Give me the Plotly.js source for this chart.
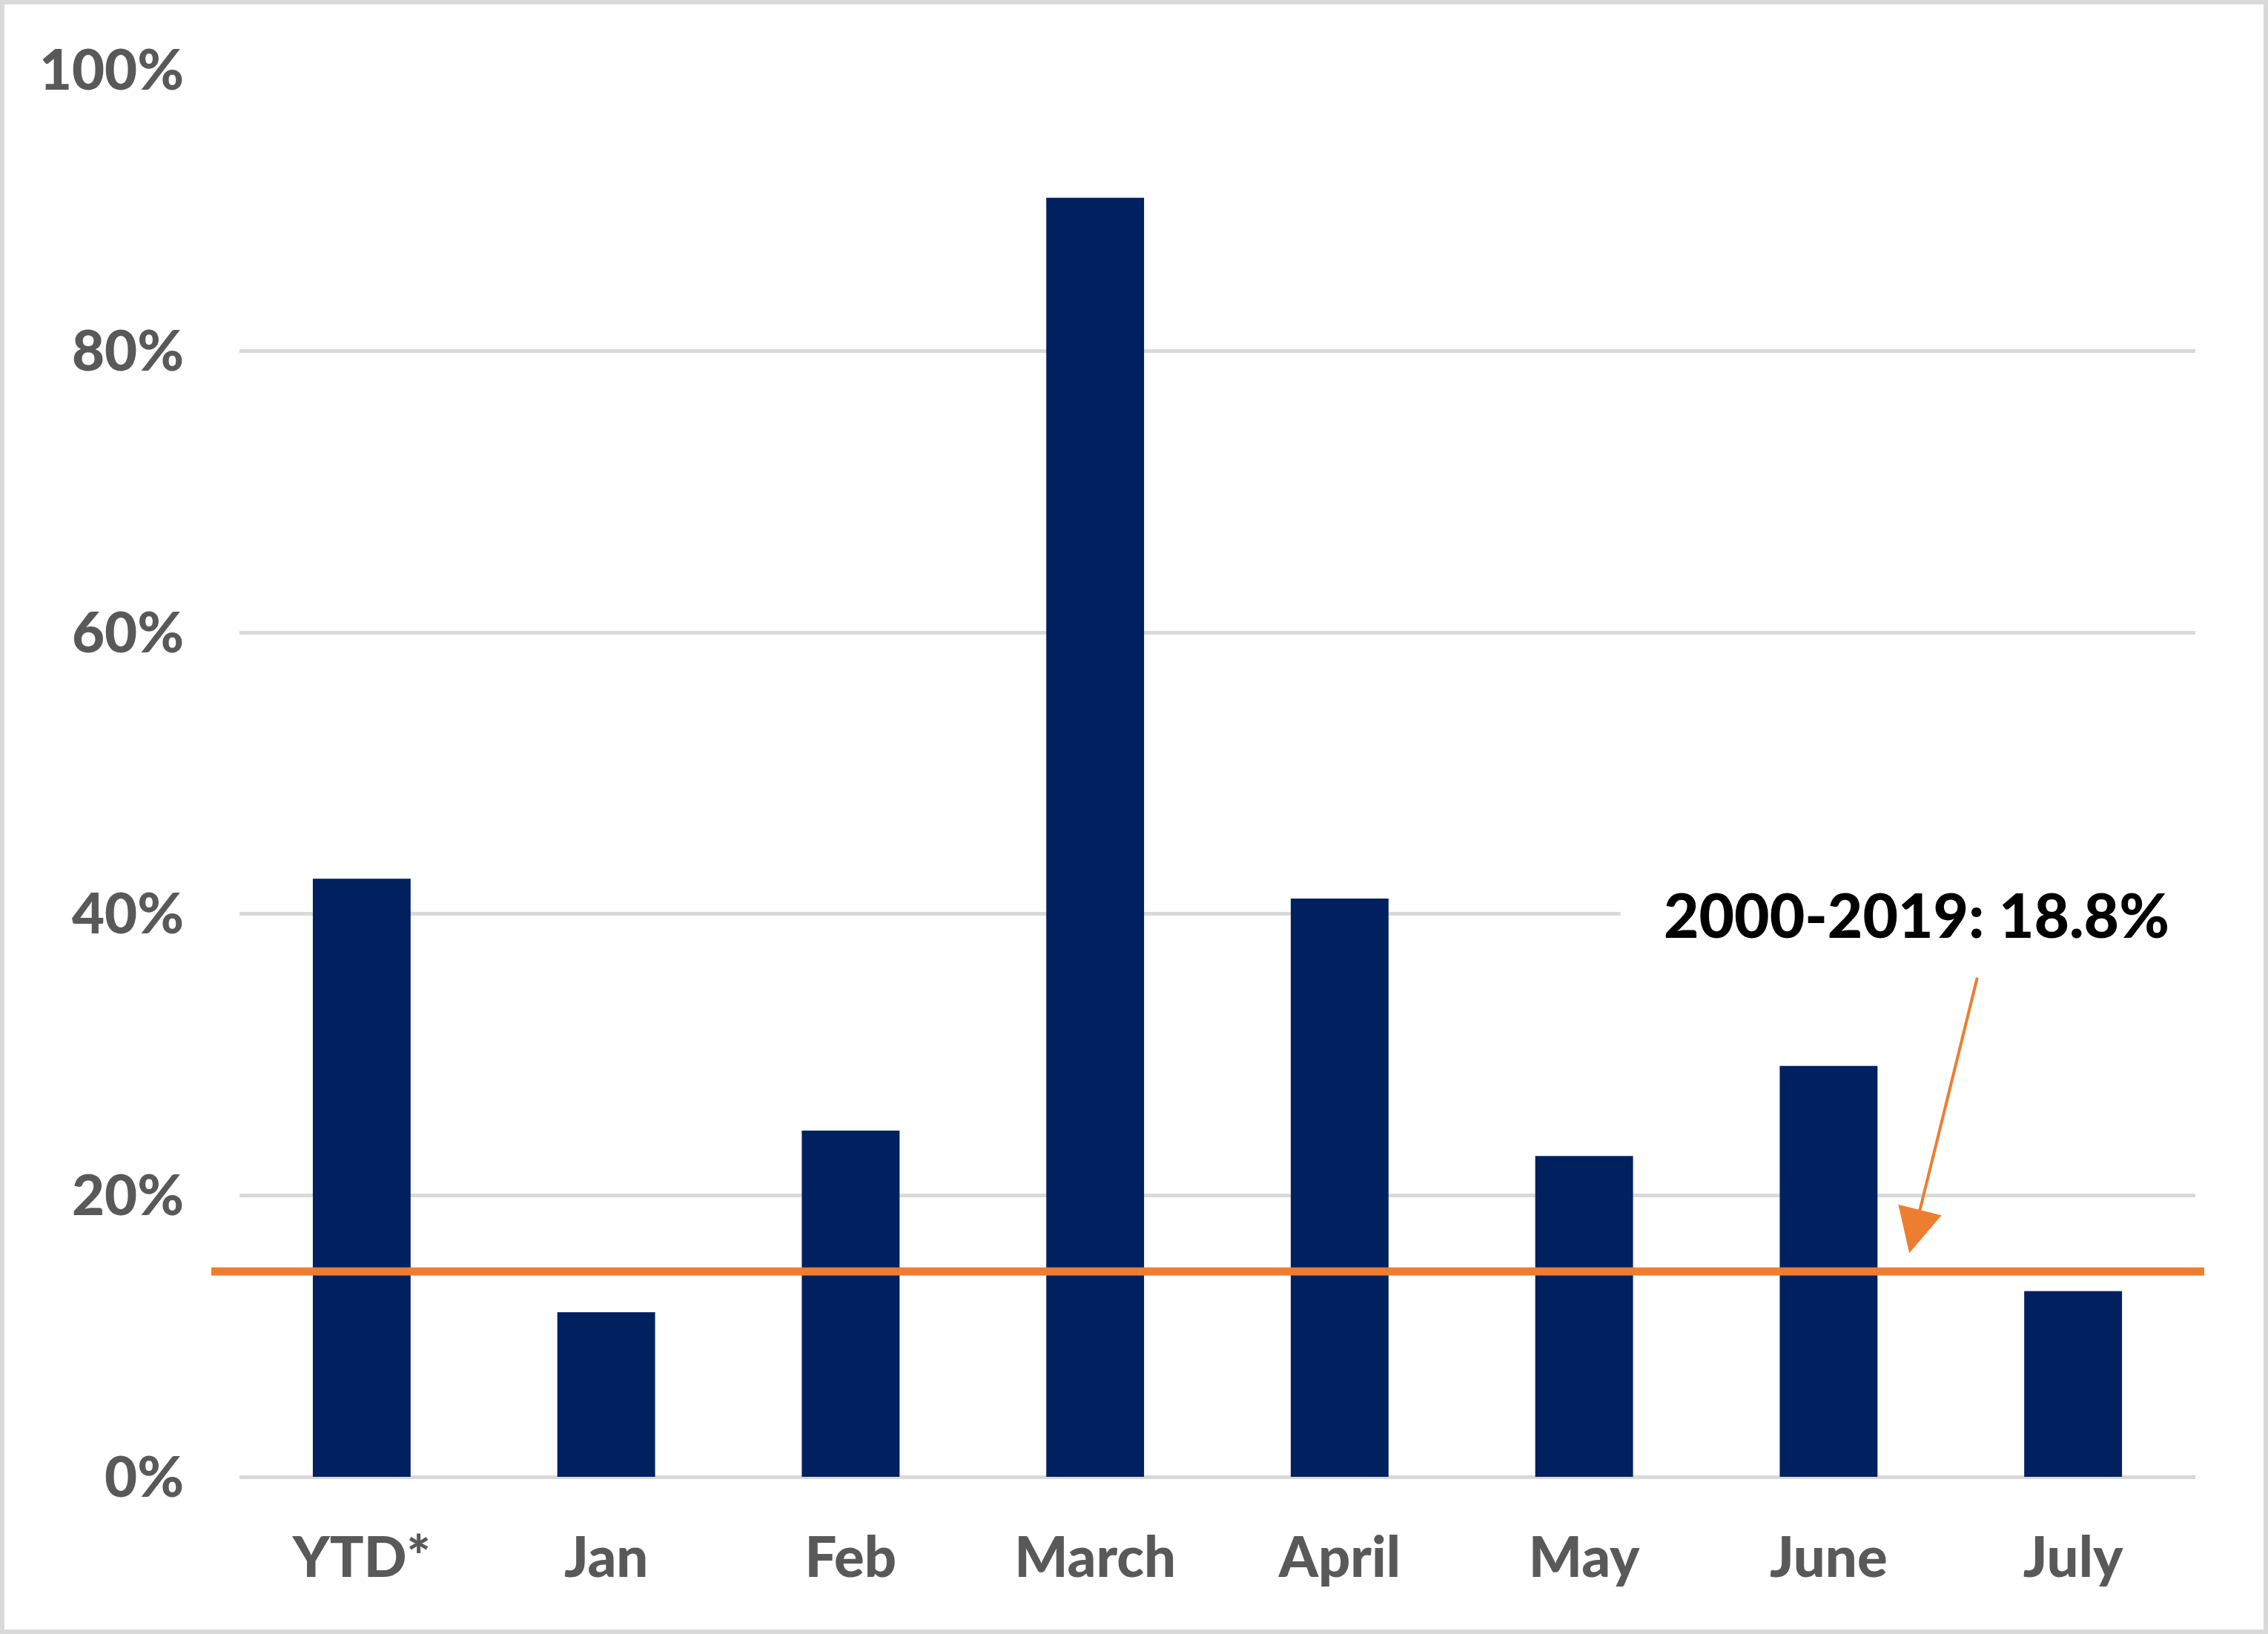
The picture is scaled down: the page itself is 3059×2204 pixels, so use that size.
<!DOCTYPE html>
<html>
<head>
<meta charset="utf-8">
<script src="https://cdn.plot.ly/plotly-3.0.1.min.js"></script>
<style>
  body { margin: 0; background: #fff; }
  #chart { width: 3059px; height: 2204px; }
</style>
</head>
<body>
<div id="chart"></div>
<script>
// share by month (percent)
var categories = ['YTD*', 'Jan', 'Feb', 'March', 'April', 'May', 'June', 'July'];
var values = [42.5, 11.7, 24.6, 90.9, 41.1, 22.8, 29.2, 13.2];
var avgLine = 14.6;
var avgLabel = '2000-2019: 18.8%';
var yTicks = [0, 20, 40, 60, 80, 100];
var yTickLabels = ['0%', '20%', '40%', '60%', '80%', '100%'];

var W = 3059, H = 2204;
var M = {l: 323, r: 98, t: 94, b: 212};
var plotW = W - M.l - M.r, plotH = H - M.t - M.b;

// pixel -> paper helpers for the outer frame and the orange line ends
function px(x) { return (x - M.l) / plotW; }
function py(y) { return (H - M.b - y) / plotH; }

var fontFam = 'Lato, "Liberation Sans", sans-serif';

var bars = {
    type: 'bar',
    x: categories,
    y: values,
    marker: {color: '#002060'},
    hoverinfo: 'none'
};

var layout = {
    width: W, height: H,
    margin: M,
    paper_bgcolor: '#fff',
    plot_bgcolor: '#fff',
    showlegend: false,
    bargap: 0.6,
    xaxis: {
        type: 'category',
        range: [-0.5, categories.length - 0.5],
        fixedrange: true,
        showgrid: false, showline: false, zeroline: false, ticks: '',
        ticklabelstandoff: 58,
        tickfont: {family: fontFam, size: 76, color: '#595959', weight: 900}
    },
    yaxis: {
        range: [0, 100],
        fixedrange: true,
        tickmode: 'array',
        tickvals: yTicks,
        ticktext: yTickLabels,
        showgrid: true, gridcolor: '#D9D9D9', gridwidth: 5,
        zeroline: true, zerolinecolor: '#D9D9D9', zerolinewidth: 5,
        showline: false, ticks: '',
        ticklabelstandoff: 74,
        tickfont: {family: fontFam, size: 76, color: '#595959', weight: 900}
    },
    shapes: [
        {type: 'line', xref: 'paper', yref: 'y',
         x0: px(285), x1: px(2973), y0: avgLine, y1: avgLine,
         line: {color: '#ED7D31', width: 11}},
        {type: 'rect', xref: 'paper', yref: 'paper',
         x0: px(3), x1: px(W - 3), y0: py(H - 3), y1: py(3),
         line: {color: '#D9D9D9', width: 6}, layer: 'below'}
    ],
    annotations: [
        {xref: 'x', yref: 'y', x: 6.36, y: 40, text: avgLabel, showarrow: false,
         font: {family: fontFam, size: 82, color: '#000', weight: 900},
         bgcolor: '#fff', borderpad: 58},
        {xref: 'x', yref: 'y', x: 6.33, y: 15.9, text: '', showarrow: true,
         ax: 92, ay: -373, arrowcolor: '#ED7D31', arrowwidth: 4,
         arrowhead: 2, arrowsize: 3, standoff: 0}
    ],
    hovermode: false
};

Plotly.newPlot('chart', [bars], layout, {displayModeBar: false, staticPlot: true});
</script>
</body>
</html>
